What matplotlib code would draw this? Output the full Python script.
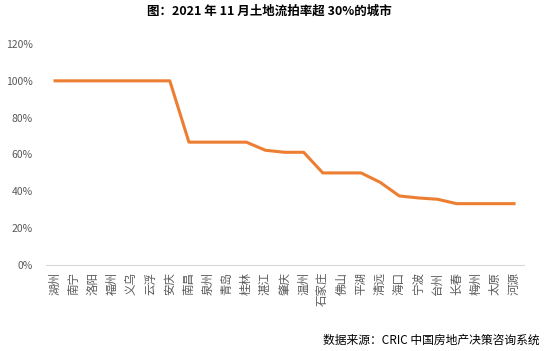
import matplotlib
matplotlib.use('Agg')
import matplotlib.pyplot as plt
from matplotlib.ticker import PercentFormatter

plt.rcParams['font.family'] = ['Noto Sans CJK SC', 'DejaVu Sans']

cities = ['湖州', '南宁', '洛阳', '福州', '义乌', '云浮', '安庆', '南昌', '泉州', '青岛',
          '桂林', '湛江', '肇庆', '温州', '石家庄', '佛山', '平湖', '清远', '海口', '宁波',
          '台州', '长春', '梅州', '太原', '河源']
rates = [100, 100, 100, 100, 100, 100, 100, 66.7, 66.7, 66.7,
         66.7, 62.3, 61.2, 61.2, 50, 50, 50, 44.9, 37.5, 36.4,
         35.7, 33.3, 33.3, 33.3, 33.3]

fig = plt.figure(figsize=(5.5, 3.51), dpi=100)
ax = fig.add_axes([45.5 / 550, 1 - 265 / 351, (523.6 - 45.5) / 550, (265 - 44) / 351])

x = list(range(len(cities)))
ax.plot(x, rates, color='#ED7D31', lw=2.2, solid_joinstyle='round')

ax.set_xlim(-0.5, len(cities) - 0.5)
ax.set_ylim(0, 120)
ax.set_yticks(range(0, 121, 20))
ax.yaxis.set_major_formatter(PercentFormatter(decimals=0))
ax.set_xticks(x)
ax.set_xticklabels(cities, rotation=90, fontsize=8.3, color='#595959')

for s in ['top', 'right', 'left']:
    ax.spines[s].set_visible(False)
ax.spines['bottom'].set_color('#D9D9D9')
ax.tick_params(axis='both', length=0)
ax.tick_params(axis='y', labelsize=7.5, labelcolor='#595959', pad=9)
ax.tick_params(axis='x', pad=5)

fig.text(0.49, 1 - 11 / 351, '图：2021 年 11 月土地流拍率超 30%的城市',
         ha='center', va='center', fontsize=9, fontweight='bold', color='black')
fig.text(540 / 550, 1 - 340 / 351, '数据来源：CRIC 中国房地产决策咨询系统',
         ha='right', va='center', fontsize=8.5, color='black')

fig.savefig('out.png', dpi=100)
